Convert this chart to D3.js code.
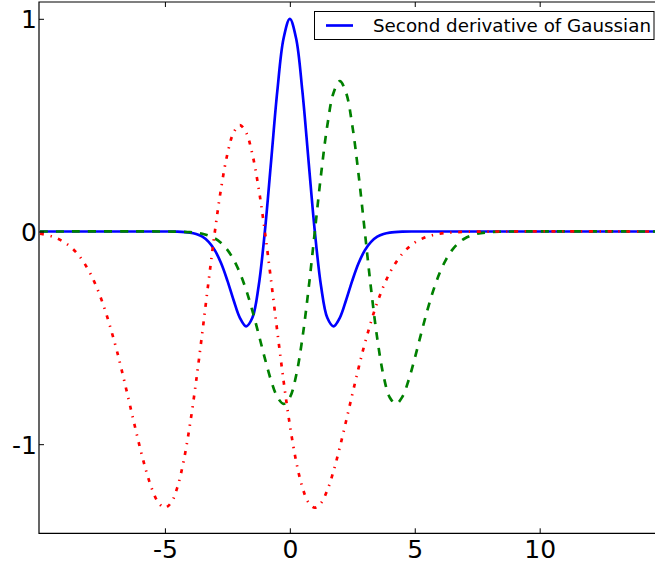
<!DOCTYPE html>
<html>
<head>
<meta charset="utf-8">
<script src="https://cdn.jsdelivr.net/npm/d3@7/dist/d3.min.js"></script>
<style>
  html, body { margin: 0; padding: 0; background: #ffffff; }
  svg { display: block; }
</style>
</head>
<body>
<svg id="chart" width="655" height="567"></svg>
<script>
// ---- data ----
const blueX = [-10, -6, -5, -4.5, -4, -3.75, -3.5, -3.25, -3, -2.75, -2.5, -2.25, -2, -1.75, -1.5, -1.25, -1, -0.75, -0.5, -0.25, 0,
               0.25, 0.5, 0.75, 1, 1.25, 1.5, 1.75, 2, 2.25, 2.5, 2.75, 3, 3.25, 3.5, 3.75, 4, 4.5, 5, 6, 15];
const blueY = [0, 0, 0, -0.0008, -0.0050, -0.0115, -0.0246, -0.0486, -0.0889, -0.1496, -0.2307, -0.3232, -0.4060, -0.4461, -0.4058, -0.2575, 0, 0.3302, 0.6619, 0.9087, 1,
               0.9087, 0.6619, 0.3302, 0, -0.2575, -0.4058, -0.4461, -0.4060, -0.3232, -0.2307, -0.1496, -0.0889, -0.0486, -0.0246, -0.0115, -0.0050, -0.0008, 0, 0, 0];

const greenX = [-10, -5, -4.5, -4, -3.5, -3, -2.75, -2.5, -2.25, -2, -1.75, -1.5, -1.25, -1, -0.75, -0.5, -0.25, 0, 0.25, 0.5, 0.75, 1,
                1.25, 1.5, 1.75, 2, 2.25, 2.5, 2.75, 3, 3.25, 3.5, 3.75, 4, 4.25, 4.5, 4.75, 5, 5.25, 5.5, 5.75, 6, 6.25, 6.5, 6.75, 7,
                7.5, 8, 8.5, 9, 15];
const greenY = [0, 0, -0.0008, -0.0031, -0.0107, -0.0328, -0.0541, -0.0862, -0.1320, -0.1943, -0.2745, -0.3721, -0.4822, -0.5962, -0.7006, -0.7781, -0.8102, -0.7804, -0.6782, -0.5036, -0.2691, 0,
                0.2688, 0.4982, 0.6526, 0.7071, 0.6526, 0.4982, 0.2688, 0, -0.2691, -0.5036, -0.6782, -0.7804, -0.8102, -0.7781, -0.7006, -0.5962, -0.4822, -0.3721, -0.2745, -0.1943, -0.1320, -0.0862, -0.0541, -0.0328,
                -0.0107, -0.0031, -0.0008, 0, 0];

const redX = [-10, -9.5, -9, -8.5, -8, -7.5, -7, -6.75, -6.5, -6.25, -6, -5.75, -5.5, -5.25, -5, -4.75, -4.5, -4.25, -4, -3.75, -3.5, -3.25, -3,
              -2.75, -2.5, -2.25, -2, -1.75, -1.5, -1.25, -1, -0.75, -0.5, -0.25, 0, 0.25, 0.5, 0.75, 1, 1.25, 1.5, 1.75, 2, 2.25, 2.5, 2.75, 3,
              3.5, 4, 4.5, 5, 5.5, 6, 6.5, 7, 8, 15];
const redY = [-0.0106, -0.0244, -0.0525, -0.1049, -0.1944, -0.3335, -0.5273, -0.6422, -0.7658, -0.8922, -1.0150, -1.1261, -1.2165, -1.2768, -1.2986, -1.2750, -1.2018, -1.0788, -0.9098, -0.7032, -0.4718, -0.2314, 0,
              0.2039, 0.3635, 0.4651, 0.5, 0.4651, 0.3635, 0.2039, 0, -0.2314, -0.4718, -0.7032, -0.9098, -1.0788, -1.2018, -1.2750, -1.2986, -1.2768, -1.2165, -1.1261, -1.0150, -0.8922, -0.7658, -0.6422, -0.5273,
              -0.3335, -0.1944, -0.1049, -0.0525, -0.0244, -0.0106, -0.0043, -0.0016, -0.0002, 0];

const xTicks = [-5, 0, 5, 10];
const xTickLabels = ["-5", "0", "5", "10"];
const yTicks = [1, 0, -1];
const yTickLabels = ["1", "0", "-1"];
const legendLabel = "Second derivative of Gaussian";

// ---- layout ----
const svg = d3.select("#chart");
const pLeft = 39, pRight = 664.6, pTop = 2, pBottom = 533.3;
const x = d3.scaleLinear().domain([-10.04, 15]).range([pLeft, pRight]);
const y = d3.scaleLinear().domain([-1.419, 1.079]).range([pBottom, pTop]);

svg.append("defs").append("clipPath").attr("id", "plotclip")
  .append("rect").attr("x", pLeft).attr("y", pTop).attr("width", pRight - pLeft).attr("height", pBottom - pTop);

const plot = svg.append("g").attr("clip-path", "url(#plotclip)");
const line = d3.line().x(d => x(d[0])).y(d => y(d[1])).curve(d3.curveCatmullRom.alpha(0.5));

const series = [
  { xs: blueX, ys: blueY, color: "#0000ff", dash: null },
  { xs: greenX, ys: greenY, color: "#008000", dash: "8,8" },
  { xs: redX, ys: redY, color: "#ff0000", dash: "4,6.67,1.33,6.67" }
];
series.forEach(s => {
  plot.append("path")
    .datum(s.xs.map((v, i) => [v, s.ys[i]]))
    .attr("d", line)
    .attr("fill", "none")
    .attr("stroke", s.color)
    .attr("stroke-width", 2.67)
    .attr("stroke-dasharray", s.dash)
    .attr("stroke-linecap", "butt")
    .attr("stroke-linejoin", "round");
});

// ---- axes (matplotlib classic: inward ticks) ----
const font = "DejaVu Sans";
const axB = svg.append("g").attr("transform", `translate(0,${pBottom})`)
  .call(d3.axisBottom(x).tickValues(xTicks).tickSizeInner(-5).tickSizeOuter(0).tickPadding(0).tickFormat((d, i) => xTickLabels[i]));
axB.select(".domain").remove();
axB.selectAll("text").attr("y", 24.7).attr("dy", null).attr("font-family", font).attr("font-size", 25).attr("fill", "#000");

const axT = svg.append("g").attr("transform", `translate(0,${pTop})`)
  .call(d3.axisTop(x).tickValues(xTicks).tickSizeInner(-5).tickSizeOuter(0).tickFormat(""));
axT.select(".domain").remove();

const axL = svg.append("g").attr("transform", `translate(${pLeft},0)`)
  .call(d3.axisLeft(y).tickValues(yTicks).tickSizeInner(-5).tickSizeOuter(0).tickPadding(0).tickFormat((d, i) => yTickLabels[i]));
axL.select(".domain").remove();
axL.selectAll("text").attr("x", -2).attr("dy", "0.36em").attr("font-family", font).attr("font-size", 25).attr("fill", "#000");

svg.selectAll(".tick line").attr("stroke", "#000").attr("stroke-width", 1);

// spines (right spine lies outside the window)
svg.append("path")
  .attr("d", `M${pRight},${pTop}H${pLeft}V${pBottom}H${pRight}`)
  .attr("fill", "none").attr("stroke", "#000").attr("stroke-width", 1.2);

// ---- legend ----
const lg = svg.append("g");
lg.append("rect").attr("x", 314.5).attr("y", 11.5).attr("width", 339.5).attr("height", 28)
  .attr("fill", "#fff").attr("stroke", "#000").attr("stroke-width", 1);
lg.append("line").attr("x1", 326).attr("x2", 353).attr("y1", 25.5).attr("y2", 25.5)
  .attr("stroke", "#0000ff").attr("stroke-width", 2.67);
lg.append("text").attr("x", 373).attr("y", 32.3).text(legendLabel)
  .attr("font-family", font).attr("font-size", 18.3).attr("fill", "#000");
</script>
</body>
</html>
